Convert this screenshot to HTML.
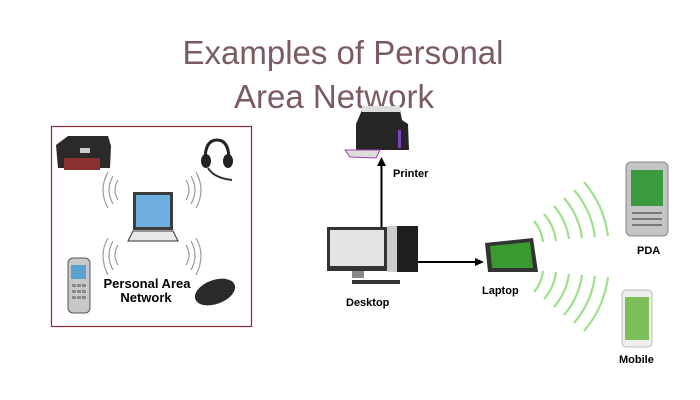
<!DOCTYPE html>
<html><head><meta charset="utf-8"><style>
html,body{margin:0;padding:0;background:#fff;}
svg{display:block;}
</style></head><body>
<svg width="700" height="400" viewBox="0 0 700 400" xmlns="http://www.w3.org/2000/svg">
<rect width="700" height="400" fill="#fff"/>
<text x="343" y="64" text-anchor="middle" font-family="Liberation Sans, sans-serif" font-size="33" fill="#7b5b5f">Examples of Personal</text>
<text x="334" y="108" text-anchor="middle" font-family="Liberation Sans, sans-serif" font-size="33" fill="#7b5b5f">Area Network</text>

<!-- left box -->
<rect x="51.5" y="126.5" width="200" height="200" fill="#fff" stroke="#8a2a38" stroke-width="1.2"/>
<path d="M56 145 L68 136 L108 136 L111 146 L110 168 L58 168 Z" fill="#2a2a2a"/>
<rect x="64" y="158" width="36" height="12" fill="#8a3030"/>
<rect x="80" y="148" width="10" height="5" fill="#ccc"/>
<path d="M205 160 Q205 140 217 140 Q229 140 229 160" fill="none" stroke="#222" stroke-width="3"/>
<ellipse cx="206" cy="161" rx="5" ry="7" fill="#222"/>
<ellipse cx="228" cy="161" rx="5" ry="7" fill="#222"/>
<path d="M208 168 Q214 178 232 180" fill="none" stroke="#333" stroke-width="2"/>
<rect x="133" y="192" width="40" height="38" fill="#3c3c3c"/>
<rect x="136" y="195" width="34" height="32" fill="#6fb0e0"/>
<path d="M128 241 L133 231 L173 231 L178 241 Z" fill="#e8e8e8" stroke="#333" stroke-width="1"/>
<g fill="none" stroke="#999" stroke-width="1.2">
<path d="M118 200 Q112 190 118 180"/><path d="M113 204 Q105 190 113 176"/><path d="M108 208 Q98 190 108 172"/>
<path d="M186 200 Q192 190 186 180"/><path d="M191 204 Q199 190 191 176"/><path d="M196 208 Q206 190 196 172"/>
<path d="M118 245 Q112 255 118 265"/><path d="M113 241 Q105 255 113 270"/><path d="M108 238 Q98 255 108 275"/>
<path d="M186 245 Q192 255 186 265"/><path d="M191 241 Q199 255 191 270"/><path d="M196 238 Q206 255 196 275"/>
</g>
<rect x="68" y="258" width="22" height="55" rx="5" fill="#c8c8c8" stroke="#555"/>
<rect x="71" y="265" width="15" height="14" fill="#5aa0d0"/>
<g fill="#888"><rect x="72" y="284" width="4" height="3"/><rect x="77" y="284" width="4" height="3"/><rect x="82" y="284" width="4" height="3"/><rect x="72" y="290" width="4" height="3"/><rect x="77" y="290" width="4" height="3"/><rect x="82" y="290" width="4" height="3"/><rect x="72" y="296" width="4" height="3"/><rect x="77" y="296" width="4" height="3"/><rect x="82" y="296" width="4" height="3"/></g>
<ellipse cx="215" cy="292" rx="21" ry="12" fill="#2a2a2a" transform="rotate(-20 215 292)"/>
<text x="147" y="288" text-anchor="middle" font-family="Liberation Sans, sans-serif" font-weight="bold" font-size="13" fill="#000">Personal Area</text>
<text x="146" y="302" text-anchor="middle" font-family="Liberation Sans, sans-serif" font-weight="bold" font-size="13" fill="#000">Network</text>

<!-- right printer -->
<path d="M362 110 L400 110 L402 120 L408 124 L409 150 L356 150 L356 124 Z" fill="#262626"/>
<rect x="362" y="106" width="38" height="6" fill="#ddd"/>
<path d="M345 150 L380 150 L376 158 L350 157 Z" fill="#ddd" stroke="#a040c0"/>
<rect x="398" y="130" width="3" height="18" fill="#8040c0"/>
<line x1="381.5" y1="228" x2="381.5" y2="164" stroke="#000" stroke-width="2"/>
<path d="M377 166 L381.5 157 L386 166 Z" fill="#000"/>
<text x="393" y="177" font-family="Liberation Sans, sans-serif" font-weight="bold" font-size="11" fill="#000">Printer</text>

<!-- desktop -->
<rect x="327" y="227" width="60" height="44" fill="#333"/>
<rect x="330" y="230" width="54" height="36" fill="#e4e4e4"/>
<rect x="352" y="271" width="12" height="7" fill="#888"/>
<rect x="387" y="226" width="31" height="46" fill="#1e1e1e"/>
<rect x="387" y="226" width="10" height="46" fill="#ccc"/>
<rect x="352" y="280" width="48" height="4" fill="#333"/>
<text x="346" y="306" font-family="Liberation Sans, sans-serif" font-weight="bold" font-size="11" fill="#000">Desktop</text>
<line x1="418" y1="262" x2="477" y2="262" stroke="#000" stroke-width="2"/>
<path d="M475 258 L484 262 L475 266 Z" fill="#000"/>

<path d="M485 243 L488 272 L538 272 L533 238 Z" fill="#333"/>
<path d="M490 246 L492 268 L533 268 L530 242 Z" fill="#3a9a30"/>
<text x="482" y="294" font-family="Liberation Sans, sans-serif" font-weight="bold" font-size="11" fill="#000">Laptop</text>

<!-- green waves -->
<g fill="none" stroke="#9fe08c" stroke-width="2.2">
<path d="M534 221 A38 38 0 0 1 543 242"/>
<path d="M544 214 A51 51 0 0 1 556 241"/>
<path d="M554 206 A64 64 0 0 1 569 239"/>
<path d="M564 198 A77 77 0 0 1 582 238"/>
<path d="M574 190 A90 90 0 0 1 595 237"/>
<path d="M584 182 A103 103 0 0 1 608 236"/>
<path d="M543 271 A38 38 0 0 1 534 292"/>
<path d="M556 272 A51 51 0 0 1 544 299"/>
<path d="M569 274 A64 64 0 0 1 554 307"/>
<path d="M582 275 A77 77 0 0 1 564 315"/>
<path d="M595 276 A90 90 0 0 1 574 323"/>
<path d="M608 277 A103 103 0 0 1 584 331"/>
</g>

<rect x="626" y="162" width="42" height="74" rx="5" fill="#c4c4c4" stroke="#888"/>
<rect x="631" y="170" width="32" height="36" fill="#3d9a40"/>
<g fill="#777"><rect x="632" y="212" width="30" height="2"/><rect x="632" y="218" width="30" height="2"/><rect x="632" y="224" width="30" height="2"/></g>
<text x="637" y="254" font-family="Liberation Sans, sans-serif" font-weight="bold" font-size="11" fill="#000">PDA</text>

<rect x="622" y="290" width="30" height="57" rx="4" fill="#eee" stroke="#bbb"/>
<rect x="625" y="297" width="24" height="43" fill="#7cbf5a"/>
<text x="619" y="363" font-family="Liberation Sans, sans-serif" font-weight="bold" font-size="11" fill="#000">Mobile</text>
</svg>
</body></html>
